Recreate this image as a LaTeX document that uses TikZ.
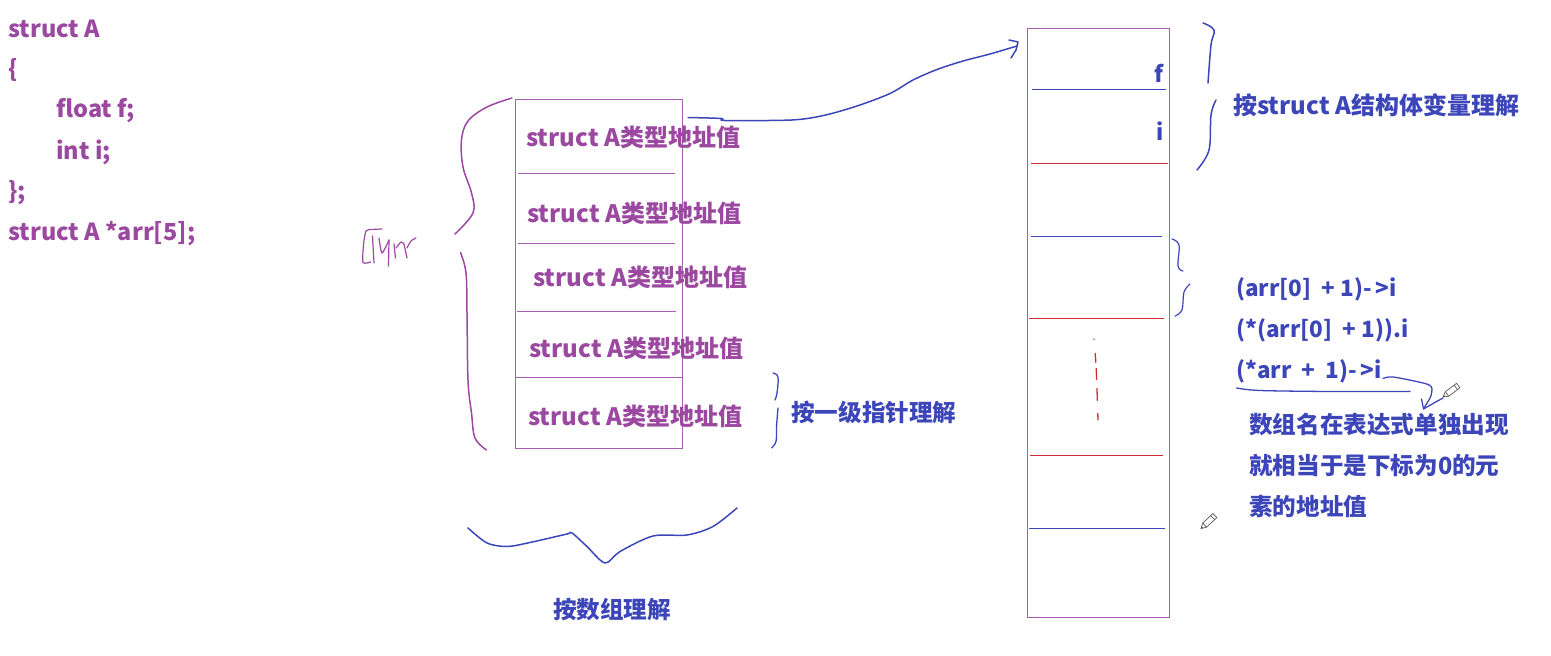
\documentclass[tikz,border=0pt]{standalone}
\usepackage{fontspec}
\setmainfont{Noto Sans CJK SC}
\definecolor{codepurple}{RGB}{155,72,160}
\definecolor{penblue}{RGB}{60,70,185}
\definecolor{boxpurple}{RGB}{165,95,175}
\definecolor{linered}{RGB}{205,45,50}
\definecolor{pencilgray}{RGB}{90,90,95}
\begin{document}
\begin{tikzpicture}[x=1pt,y=-1pt,
  code/.style={anchor=west,inner sep=0pt,text=codepurple,font=\fontsize{23.5}{27}\selectfont\bfseries},
  cell/.style={anchor=west,inner sep=0pt,text=codepurple,font=\fontsize{24}{28}\selectfont\bfseries},
  note/.style={anchor=west,inner sep=0pt,text=penblue,font=\fontsize{23.6}{27}\selectfont\bfseries},
  expr/.style={anchor=west,inner sep=0pt,text=penblue,font=\fontsize{22.5}{26}\selectfont\bfseries},
  pen/.style={draw=penblue,line width=1.5pt,line cap=round,line join=round},
  purplepen/.style={draw=codepurple,line width=1.5pt,line cap=round,line join=round},
  memboxstyle/.style={draw=boxpurple,line width=0.9pt,inner sep=0pt,anchor=north west},
  bluesep/.style={draw=penblue,line width=0.8pt},
  redsep/.style={draw=linered,line width=0.8pt},
  purplesep/.style={draw=boxpurple,line width=0.8pt},
  pencil/.pic={
    \draw[pencilgray,line width=0.7pt,fill=white] (0,0) -- (5,-2.8) -- (19,-2.8) -- (19,2.8) -- (5,2.8) -- cycle;
    \draw[pencilgray,line width=0.7pt] (5,-2.8) -- (5,2.8) (16,-2.8) -- (16,2.8);
    \fill[pencilgray] (0,0) -- (2,-1.1) -- (2,1.1) -- cycle;}
]
\useasboundingbox (0,0) rectangle (1551,656);

% ---- code on the left ----
\node[code] (c1) at (8,29) {struct A};
\node[code] (c2) at (8,70) {\{};
\node[code] (c3) at (56,111) {float f;};
\node[code] (c4) at (56,152) {int i;};
\node[code] (c5) at (8,193) {\};};
\node[code] (c6) at (8,234) {struct A *arr[5];};

% ---- pointer array box ----
\node[memboxstyle,minimum width=167pt,minimum height=349pt] (arrbox) at (515,99) {};
\draw[purplesep] (518,173) -- (675,173);
\draw[purplesep] (518,243) -- (675,243);
\draw[purplesep] (517,311) -- (676,311);
\draw[purplesep] (515,377) -- (682,377);
\node[cell] (p1) at (526,137) {struct A类型地址值};
\node[cell] (p2) at (527,213) {struct A类型地址值};
\node[cell] (p3) at (533,277) {struct A类型地址值};
\node[cell] (p4) at (529,348) {struct A类型地址值};
\node[cell] (p5) at (528,416) {struct A类型地址值};

% left hand-drawn brace
\draw[purplepen] plot[smooth,tension=0.6] coordinates {(512,98) (487,107) (468,121) (461.5,140) (463,167) (471.5,193) (473,213) (455,234)};
\draw[purplepen] plot[smooth,tension=0.6] coordinates {(460.5,252.5) (466,273) (467,313) (468,380) (471.5,413) (475,438) (486.5,450)};
% handwritten "arr"
\draw[purplepen,line width=1.2pt] plot[smooth,tension=0.4] coordinates {(382,229) (372,229.5) (366,231) (363.5,245) (363,262.5) (371,262)};
\draw[purplepen,line width=1.2pt] (372.5,236) -- (374,263);
\draw[purplepen,line width=1.2pt] plot[smooth,tension=0.4] coordinates {(379,238) (382,253) (389,240)};
\draw[purplepen,line width=1.2pt] (389,240) -- (388.5,266);
\draw[purplepen,line width=1.2pt] plot[smooth,tension=0.4] coordinates {(394,244) (395.5,258)};
\draw[purplepen,line width=1.2pt] plot[smooth,tension=0.4] coordinates {(396,248) (401,242) (404,244)};
\draw[purplepen,line width=1.2pt] plot[smooth,tension=0.4] coordinates {(404,244) (407,258)};
\draw[purplepen,line width=1.2pt] plot[smooth,tension=0.4] coordinates {(407,248) (411,241) (416,238)};

% brace for one-level pointer
\draw[pen,line width=1.3pt] plot[smooth,tension=0.6] coordinates {(773,373) (778,377) (777,393) (775,400)};
\draw[pen,line width=1.3pt] plot[smooth,tension=0.6] coordinates {(778,408) (776.5,427) (776,441.5) (771.5,448)};
\node[note] (lvl1) at (791,413) {按一级指针理解};

% bottom brace
\draw[pen] plot[smooth,tension=0.5] coordinates {(468,528) (487,543) (507,546.5) (530,542.5) (567,534) (572,533) (587,546.5) (605,563) (620,551.5) (653,536) (687,535) (713,526.5) (737,508)};
\node[note,anchor=center] (arrlbl) at (612,610) {按数组理解};

% ---- struct memory column ----
\node[memboxstyle,minimum width=142pt,minimum height=589pt] (mem) at (1027,28) {};
\draw[bluesep] (1032,89) -- (1166,89);
\draw[redsep] (1031,163) -- (1168,163);
\draw[bluesep] (1031,236) -- (1162,236);
\draw[redsep] (1029,318) -- (1164,318);
\draw[redsep] (1030,455) -- (1163,455);
\draw[bluesep] (1029,528) -- (1165,528);
\node[expr,anchor=east] (ff) at (1164,73) {f};
\node[expr,anchor=east] (fi) at (1164,131) {i};
\draw[linered,line width=1.3pt,line cap=round,dash pattern=on 0.5pt off 14pt on 9pt off 6pt on 11pt off 9pt on 12pt off 13pt on 0.5pt] plot[smooth] coordinates {(1094,339) (1096,365) (1097,390) (1098,420)};

% arrow from first cell to struct
\coordinate (arrowstart) at (688,117.5);
\coordinate (arrowtip) at (1017,46);
\draw[pen] plot[smooth,tension=0.5] coordinates {(arrowstart) (721.5,118.5) (725,120.5) (791.5,120) (823.5,115.5) (857,106) (890,93.5) (913,80) (937,69.5) (963,61) (990,54) (arrowtip)};
\draw[pen] (1009,40) -- (1018,42) -- (1016,50);
\draw[pen] (1016,50) -- (1011,58);

% brace for struct A
\draw[pen] plot[smooth,tension=0.6] coordinates {(1203,23) (1214,30) (1211,45) (1208,83)};
\draw[pen] plot[smooth,tension=0.6] coordinates {(1216,100) (1211,115) (1209,150) (1197,170)};
\node[note,font=\fontsize{24}{28}\selectfont\bfseries] (structlbl) at (1233,105) {按struct A结构体变量理解};

% small brace
\draw[pen,line width=1.2pt] plot[smooth,tension=0.6] coordinates {(1172,239) (1179,245) (1178,266) (1183,271)};
\draw[pen,line width=1.2pt] plot[smooth,tension=0.6] coordinates {(1190,284) (1184,292) (1182,310) (1175,316)};

% expressions
\node[expr] (e1) at (1236,289) {(arr[0]\ \ +\ 1)-\,>i};
\node[expr] (e2) at (1236,330) {(*(arr[0]\ \ +\ 1)).i};
\node[expr] (e3) at (1236,371) {(*arr\ \ +\ \ 1)-\,>i};
\draw[pen,line width=1.3pt] plot[smooth,tension=0.5] coordinates {(1236.5,388) (1260,390.5) (1330,391.5) (1410,391.5)};
\draw[pen,line width=1.3pt] plot[smooth,tension=0.5] coordinates {(1383,378.5) (1393,377) (1423,383) (1431.5,387) (1430.5,397) (1423.5,408.5)};
\draw[pen,line width=1.3pt] (1421.5,399) -- (1423.5,409) -- (1436.5,401.5) -- (1443,398);
\pic[rotate=37] at (1443,397) {pencil};
\pic[rotate=43] at (1201,528.5) {pencil};

\node[note] (n1) at (1249,425) {数组名在表达式单独出现};
\node[note] (n2) at (1249,466) {就相当于是下标为0的元};
\node[note] (n3) at (1249,507) {素的地址值};
\end{tikzpicture}
\end{document}
